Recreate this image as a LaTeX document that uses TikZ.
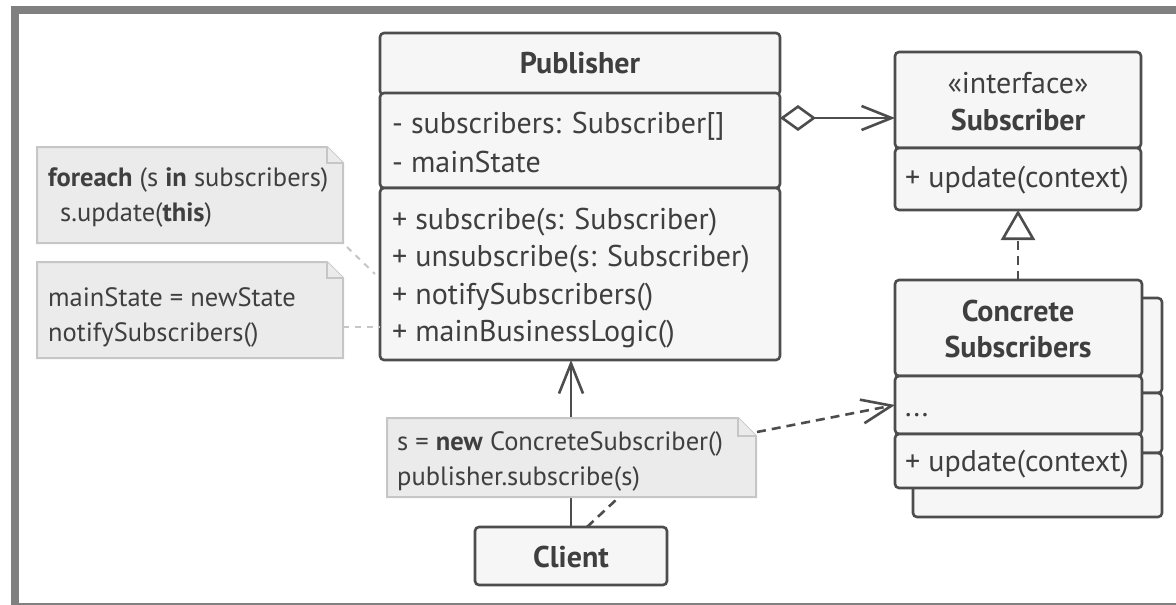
\documentclass[tikz,border=0pt]{standalone}
\usepackage{fontspec}
\setmainfont{PT Sans}
\usetikzlibrary{arrows.meta,calc}
\definecolor{ln}{HTML}{4D4D4D}
\definecolor{bx}{HTML}{F6F6F6}
\definecolor{tx}{HTML}{3F3F3F}
\definecolor{nf}{HTML}{EBEBEB}
\definecolor{nb}{HTML}{C6C6C6}
\definecolor{fr}{HTML}{808080}
\begin{document}
\begin{tikzpicture}[x=1pt,y=-1pt,
  sect/.style={draw=ln, fill=bx, line width=2.6pt, rounded corners=4pt, inner sep=0pt, outer sep=0pt, anchor=north west},
  txt/.style={text=tx, font=\fontsize{30}{36}\selectfont, inner sep=0pt, anchor=base west},
  ntxt/.style={text=tx, font=\fontsize{26.5}{32}\selectfont, inner sep=0pt, anchor=base west},
  ttl/.style={text=tx, font=\fontsize{30}{36}\selectfont\bfseries, inner sep=0pt, anchor=base},
  notearea/.style={inner sep=0pt, outer sep=0pt, anchor=north west},
  noteline/.style={draw=nb, fill=nf, line width=2pt},
  conn/.style={draw=ln, line width=2.6pt},
  dashy/.style={dashed, dash pattern=on 9pt off 6pt},
  openarrow/.style={-{Straight Barb[length=30pt,width=24pt]}},
]
\useasboundingbox (0,0) rectangle (1176,605);
% frame
\fill[fr] (11,6) rectangle (1176,14);
\fill[fr] (11,6) rectangle (19,605);
\fill[fr] (11,603) rectangle (1176,605);

% Publisher
\node[sect, minimum width=400pt, minimum height=62pt] (pubH) at (380,33) {};
\node[sect, minimum width=400pt, minimum height=95pt] (pubA) at (380,93) {};
\node[sect, minimum width=400pt, minimum height=172pt] (pubM) at (380,188) {};
\node[ttl] (pubT) at (580,73) {Publisher};
\node[txt] (pa1) at (392,133) {- subscribers: Subscriber[]};
\node[txt] (pa2) at (392,172) {- mainState};
\node[txt] (pm1) at (392,229) {+ subscribe(s: Subscriber)};
\node[txt] (pm2) at (392,266) {+ unsubscribe(s: Subscriber)};
\node[txt] (pm3) at (392,304) {+ notifySubscribers()};
\node[txt] (pm4) at (392,341) {+ mainBusinessLogic()};

% Subscriber interface
\node[sect, minimum width=246pt, minimum height=96pt] (subH) at (895,52) {};
\node[sect, minimum width=246pt, minimum height=62pt] (subM) at (895,148) {};
\node[txt, anchor=base] (subS) at (1018,93) {«interface»};
\node[ttl] (subT) at (1018,130) {Subscriber};
\node[txt] (sm1) at (905,187) {+ update(context)};

% Concrete subscribers (stacked)
\node[sect, minimum width=249pt, minimum height=95pt] (cbH) at (913,298) {};
\node[sect, minimum width=249pt, minimum height=60pt] (cbA) at (913,393) {};
\node[sect, minimum width=249pt, minimum height=64pt] (cbM) at (913,453) {};
\node[sect, minimum width=247pt, minimum height=96pt] (conH) at (895,280) {};
\node[sect, minimum width=247pt, minimum height=58pt] (conA) at (895,376) {};
\node[sect, minimum width=247pt, minimum height=54pt] (conM) at (895,434) {};
\node[ttl] (conT1) at (1018,321) {Concrete};
\node[ttl] (conT2) at (1018,357) {Subscribers};
\node[txt] (ca1) at (905,416) {...};
\node[txt] (cm1) at (905,471) {+ update(context)};

% Client
\node[sect, minimum width=192pt, minimum height=58pt] (client) at (475,527) {};
\node[ttl] (clientT) at (571,567) {Client};

% aggregation
\coordinate (aggY) at (0,118);
\draw[conn, {Diamond[open,length=36pt,width=26pt]}-{Straight Barb[length=30pt,width=24pt]}] (pubA.east |- aggY) -- (subH.west |- aggY);
% realization
\draw[conn, dashy, -{Triangle[open,length=30pt,width=34pt]}] (conH.north -| subT) -- (subM.south -| subT);
% client -> publisher
\draw[conn, openarrow] (client.north) -- (client.north |- pubM.south);

% Client note
\node[notearea, minimum width=369pt, minimum height=79pt] (cnote) at (387,418) {};
\draw[noteline] (cnote.north west) -- ($(cnote.north east)+(-18,0)$) -- ($(cnote.north east)+(0,18)$) -- (cnote.south east) -- (cnote.south west) -- cycle;
\draw[noteline] ($(cnote.north east)+(-18,0)$) -- ($(cnote.north east)+(-18,18)$) -- ($(cnote.north east)+(0,18)$);
\node[ntxt] (cn1) at (397,450) {s = \textbf{new} ConcreteSubscriber()};
\node[ntxt] (cn2) at (397,485) {publisher.subscribe(s)};

% dashed from client to note, note to concrete
\coordinate (clA) at (587,527);
\coordinate (clB) at (617,499);
\draw[conn, dashy] (clA) -- (clB);
\coordinate (cnC) at (757,432);
\draw[conn, dashy, openarrow] (cnC) -- (conA.west);

% Left notes
\node[notearea, minimum width=306pt, minimum height=96pt] (note1) at (37,147) {};
\draw[noteline] (note1.north west) -- ($(note1.north east)+(-16,0)$) -- ($(note1.north east)+(0,16)$) -- (note1.south east) -- (note1.south west) -- cycle;
\draw[noteline] ($(note1.north east)+(-16,0)$) -- ($(note1.north east)+(-16,16)$) -- ($(note1.north east)+(0,16)$);
\node[ntxt] (n1a) at (48,186) {\textbf{foreach} (s \textbf{in} subscribers)};
\node[ntxt] (n1b) at (60,221) {s.update(\textbf{this})};

\node[notearea, minimum width=306pt, minimum height=96pt] (note2) at (37,262) {};
\draw[noteline] (note2.north west) -- ($(note2.north east)+(-16,0)$) -- ($(note2.north east)+(0,16)$) -- (note2.south east) -- (note2.south west) -- cycle;
\draw[noteline] ($(note2.north east)+(-16,0)$) -- ($(note2.north east)+(-16,16)$) -- ($(note2.north east)+(0,16)$);
\node[ntxt] (n2a) at (48,306) {mainState = newState};
\node[ntxt] (n2b) at (48,341) {notifySubscribers()};

% note connectors
\coordinate (n1c) at (347,247);
\coordinate (n1d) at (375,274);
\coordinate (n2y) at (0,327);
\draw[nb, line width=2pt, dashed, dash pattern=on 6pt off 6pt] (n1c) -- (n1d);
\draw[nb, line width=2pt, dashed, dash pattern=on 6pt off 6pt] (note2.east |- n2y) -- (pubM.west |- n2y);
\end{tikzpicture}
\end{document}
